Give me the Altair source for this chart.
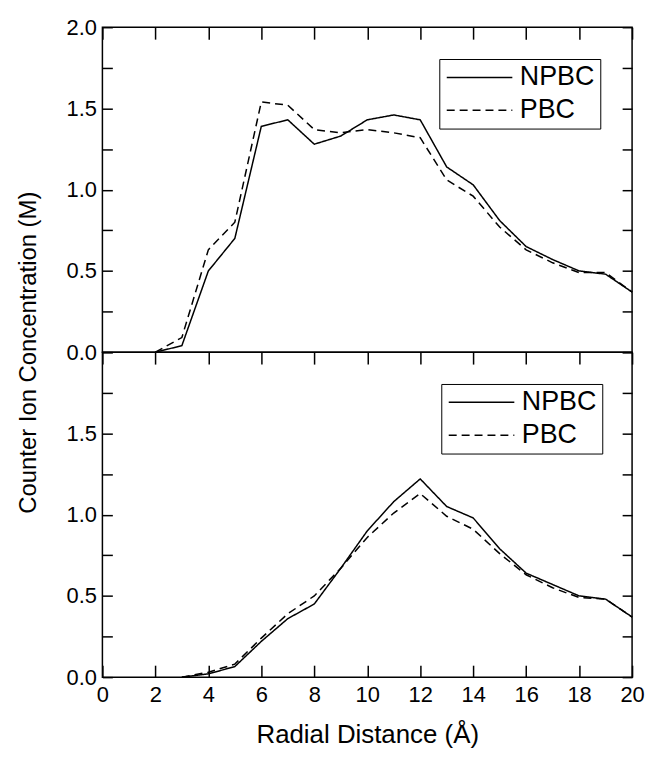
import altair as alt
import pandas as pd

# ---- data ----
series = ["NPBC", "PBC"]

x_top = list(range(2, 21))
top_npbc = [0.0, 0.04, 0.50, 0.70, 1.39, 1.43, 1.28, 1.33, 1.43, 1.46, 1.43,
            1.14, 1.03, 0.81, 0.65, 0.57, 0.50, 0.48, 0.37]
top_pbc = [0.0, 0.09, 0.63, 0.80, 1.54, 1.52, 1.37, 1.35, 1.37, 1.35, 1.32,
           1.06, 0.96, 0.77, 0.63, 0.55, 0.49, 0.49, 0.37]

x_bot = list(range(3, 21))
bot_npbc = [0.0, 0.02, 0.065, 0.22, 0.36, 0.45, 0.67, 0.90, 1.08, 1.22,
            1.05, 0.98, 0.79, 0.64, 0.57, 0.50, 0.48, 0.37]
bot_pbc = [0.0, 0.03, 0.08, 0.24, 0.39, 0.50, 0.67, 0.86, 1.01, 1.13,
           0.99, 0.91, 0.76, 0.63, 0.55, 0.49, 0.48, 0.37]

x_ticks = [0, 2, 4, 6, 8, 10, 12, 14, 16, 18, 20]
y_ticks = [0, 0.25, 0.5, 0.75, 1.0, 1.25, 1.5, 1.75, 2.0]

x_title = "Radial Distance (Å)"
y_title = "Counter Ion Concentration (M)"


def frame(xs, a, b):
    return pd.DataFrame({
        "r": xs + xs,
        "c": a + b,
        "series": [series[0]] * len(xs) + [series[1]] * len(xs),
    })


FONT = "Liberation Sans"
W, H = 533, 327
xscale = alt.Scale(domain=[0, 20], nice=False, zero=False)
yscale = alt.Scale(domain=[0, 2], nice=False, zero=False)
dash_scale = alt.Scale(domain=series, range=[[1, 0], [8, 5]])


def panel(df, is_bottom, lx, ly):
    legend = alt.Legend(
        title=None, orient="none", legendX=lx, legendY=ly,
        strokeColor="black", padding=5, cornerRadius=0,
        symbolType="M-1,0H5", symbolSize=484, symbolStrokeWidth=1.5,
        symbolStrokeColor="black", symbolFillColor="transparent",
        labelFont=FONT, labelFontSize=27,
        labelColor="black", labelOffset=49, rowPadding=5,
    )
    if is_bottom:
        lab = "datum.value % 0.5 == 0 && datum.value < 2 ? format(datum.value, '.1f') : ''"
        xaxis = alt.Axis(
            orient="bottom", values=x_ticks, offset=-12, tickSize=12,
            domain=False, grid=False, tickColor="black", tickWidth=1.5,
            labelFont=FONT, labelFontSize=22, labelColor="black",
            labelPadding=8, labelFlush=False, labelOverlap=False,
            title=x_title, titleFont=FONT, titleFontSize=26,
            titleFontWeight="normal", titleColor="black", titlePadding=16,
        )
        ytitle = None
    else:
        lab = "datum.value % 0.5 == 0 ? format(datum.value, '.1f') : ''"
        xaxis = None
        ytitle = y_title
    yaxis_kw = dict(
        orient="left", values=y_ticks, labelExpr=lab, offset=-10, tickSize=10,
        domain=False, grid=False, tickColor="black", tickWidth=1.5,
        labelFont=FONT, labelFontSize=22, labelColor="black", labelPadding=6,
        labelFlush=False, labelOverlap=False,
    )
    if ytitle:
        yaxis_kw.update(title=ytitle, titleFont=FONT, titleFontSize=24,
                        titleFontWeight="normal", titleColor="black",
                        titleAngle=270, titleX=-84, titleY=H,
                        titleAlign="center", titleBaseline="middle")
    else:
        yaxis_kw.update(title=None)
    yaxis = alt.Axis(**yaxis_kw)

    lines = alt.Chart(df).mark_line(color="black", strokeWidth=1.5).encode(
        x=alt.X("r:Q", scale=xscale, axis=xaxis),
        y=alt.Y("c:Q", scale=yscale, axis=yaxis),
        strokeDash=alt.StrokeDash("series:N", scale=dash_scale, legend=legend),
    )
    ghost = alt.Chart(df).mark_line(strokeOpacity=0).encode(
        x=alt.X("r:Q", scale=xscale, axis=alt.Axis(
            orient="top", values=x_ticks, offset=-12, tickSize=12,
            labels=False, domain=False, grid=False, tickColor="black",
            tickWidth=1.5, title=None)),
        y=alt.Y("c:Q", scale=yscale, axis=alt.Axis(
            orient="right", values=y_ticks, offset=-10, tickSize=10,
            labels=False, domain=False, grid=False, tickColor="black",
            tickWidth=1.5, title=None)),
        detail="series:N",
    )
    return alt.layer(lines, ghost).resolve_axis(
        x="independent", y="independent").properties(width=W, height=H)


top = panel(frame(x_top, top_npbc, top_pbc), False, 339, 32)
bottom = panel(frame(x_bot, bot_npbc, bot_pbc), True, 341, 32)

chart = alt.vconcat(top, bottom, spacing=0, bounds="flush").resolve_scale(
    strokeDash="independent").resolve_legend(strokeDash="independent").properties(
    padding={"left": 8, "top": 5, "right": 0, "bottom": 0}
).configure(background="white").configure_view(stroke="black", strokeWidth=1.5)

chart.save("out.html", embed_options={"renderer": "svg", "actions": False})
